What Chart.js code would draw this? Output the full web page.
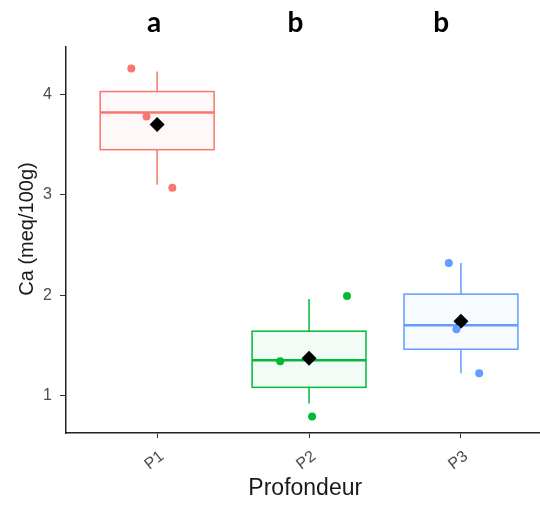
<!DOCTYPE html>
<html>
<head>
<meta charset="utf-8">
<title>Ca par profondeur</title>
<script src="https://cdn.jsdelivr.net/npm/chart.js@4/dist/chart.umd.min.js"></script>
<style>
  html, body { margin: 0; padding: 0; background: #fff; overflow: hidden; }
</style>
</head>
<body>
<canvas id="chartCa" width="552" height="506"></canvas>
<script>
// catégories et couleurs (palette ggplot par défaut)
const categories = ['P1', 'P2', 'P3'];
const colors = ['#F8766D', '#00BA38', '#619CFF'];
const letters = ['a', 'b', 'b'];
const letterX = [0.98, 1.91, 2.87];
const letterY = 4.62;

// statistiques des boîtes
const whiskerLow = [3.10, 0.92, 1.22];
const q1 = [3.45, 1.08, 1.46];
const median = [3.82, 1.35, 1.70];
const q3 = [4.03, 1.64, 2.01];
const whiskerHigh = [4.23, 1.96, 2.32];
const means = [3.70, 1.37, 1.74];

// observations (avec jitter horizontal)
const obsP1 = [{x: 0.83, y: 4.26}, {x: 0.93, y: 3.78}, {x: 1.10, y: 3.07}];
const obsP2 = [{x: 1.81, y: 1.34}, {x: 2.02, y: 0.79}, {x: 2.25, y: 1.99}];
const obsP3 = [{x: 2.92, y: 2.32}, {x: 2.97, y: 1.66}, {x: 3.12, y: 1.22}];

const yTicks = [1, 2, 3, 4];
const xTicks = [1, 2, 3];

const BOX_WIDTH = 0.75;
const FONT = '"Liberation Sans", Arial, sans-serif';

const boxPlugin = {
    id: 'boxes',
    beforeDatasetsDraw(chart) {
        const {ctx, scales: {x, y}} = chart;
        ctx.save();
        categories.forEach((cat, i) => {
            const c = i + 1;
            const cx = x.getPixelForValue(c);
            const left = x.getPixelForValue(c - BOX_WIDTH / 2);
            const right = x.getPixelForValue(c + BOX_WIDTH / 2);
            const yQ1 = y.getPixelForValue(q1[i]);
            const yQ3 = y.getPixelForValue(q3[i]);
            ctx.strokeStyle = colors[i];

            // moustaches
            ctx.lineWidth = 1.5;
            ctx.beginPath();
            ctx.moveTo(cx, y.getPixelForValue(whiskerHigh[i]));
            ctx.lineTo(cx, yQ3);
            ctx.moveTo(cx, yQ1);
            ctx.lineTo(cx, y.getPixelForValue(whiskerLow[i]));
            ctx.stroke();

            // boîte
            ctx.fillStyle = colors[i] + '0D';
            ctx.fillRect(left, yQ3, right - left, yQ1 - yQ3);
            ctx.strokeRect(left, yQ3, right - left, yQ1 - yQ3);

            // médiane
            ctx.lineWidth = 2.5;
            ctx.beginPath();
            const yMed = y.getPixelForValue(median[i]);
            ctx.moveTo(left, yMed);
            ctx.lineTo(right, yMed);
            ctx.stroke();
        });
        ctx.restore();
    },
    afterDraw(chart) {
        const {ctx, scales: {x, y}} = chart;
        ctx.save();
        // lettres de significativité
        ctx.font = 'bold 28px Lato, sans-serif';
        ctx.fillStyle = '#000';
        ctx.textAlign = 'center';
        ctx.textBaseline = 'alphabetic';
        letters.forEach((l, i) => {
            ctx.fillText(l, x.getPixelForValue(letterX[i]), y.getPixelForValue(letterY));
        });
        // titre de l'axe y
        ctx.font = '20px ' + FONT;
        ctx.fillStyle = '#1a1a1a';
        ctx.translate(27, 229);
        ctx.rotate(-Math.PI / 2);
        ctx.textBaseline = 'middle';
        ctx.fillText('Ca (meq/100g)', 0, 0);
        ctx.restore();
    }
};

const pointSets = [obsP1, obsP2, obsP3].map((pts, i) => ({
    label: categories[i],
    data: pts,
    backgroundColor: colors[i],
    borderColor: colors[i],
    pointRadius: 4,
    pointHoverRadius: 4,
    borderWidth: 0
}));

const meanSet = {
    label: 'Moyenne',
    data: means.map((m, i) => ({x: i + 1, y: m})),
    backgroundColor: '#000',
    borderColor: '#000',
    pointStyle: 'rectRot',
    pointRadius: 7.5,
    pointHoverRadius: 7.5,
    borderWidth: 0
};

const ctx = document.getElementById('chartCa').getContext('2d');
new Chart(ctx, {
    type: 'scatter',
    data: { datasets: [...pointSets, meanSet] },
    options: {
        responsive: false,
        animation: false,
        devicePixelRatio: 1,
        layout: { padding: { top: 47, left: 0, right: 0, bottom: 0 } },
        plugins: {
            legend: { display: false },
            tooltip: { enabled: false }
        },
        scales: {
            x: {
                type: 'linear',
                min: 0.4,
                max: 3.55,
                afterBuildTicks: scale => { scale.ticks = xTicks.map(v => ({value: v})); },
                afterFit: scale => { scale.height = 73; },
                ticks: {
                    callback: v => categories[v - 1],
                    minRotation: 38,
                    maxRotation: 38,
                    padding: 9,
                    labelOffset: 5,
                    color: '#4D4D4D',
                    font: { family: FONT, size: 16 }
                },
                grid: { drawOnChartArea: false, drawTicks: true, tickLength: 5, color: '#333' },
                border: { display: true, color: '#222', width: 1.5 },
                title: {
                    display: true,
                    text: 'Profondeur',
                    color: '#1a1a1a',
                    font: { family: FONT, size: 23 },
                    padding: { top: 0, bottom: 4 }
                }
            },
            y: {
                min: 0.625,
                max: 4.474,
                afterBuildTicks: scale => { scale.ticks = yTicks.map(v => ({value: v})); },
                afterFit: scale => { scale.width = 66; },
                ticks: {
                    padding: 8,
                    color: '#4D4D4D',
                    font: { family: FONT, size: 16 }
                },
                grid: { drawOnChartArea: false, drawTicks: true, tickLength: 6, color: '#333' },
                border: { display: true, color: '#222', width: 1.5 }
            }
        }
    },
    plugins: [boxPlugin]
});
</script>
</body>
</html>
